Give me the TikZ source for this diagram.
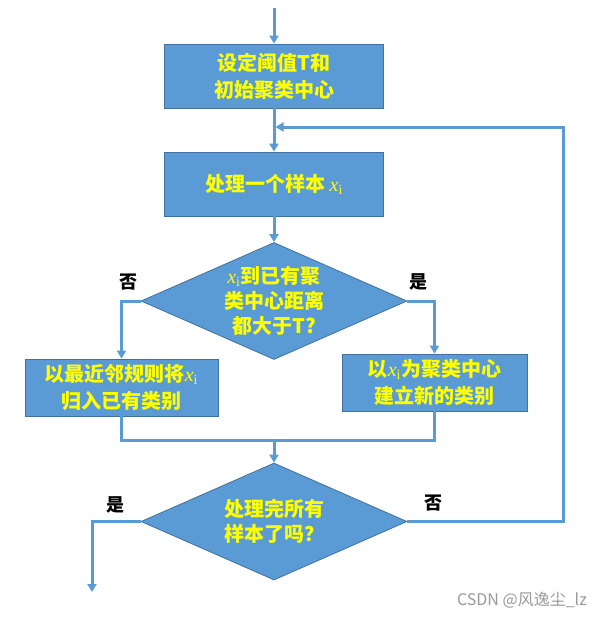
\documentclass[tikz,border=0pt]{standalone}
\usepackage[no-math]{fontspec}
\setmainfont{Noto Sans CJK SC}
\newfontfamily\xfont{Liberation Serif}
\usepackage{xcolor}
\usetikzlibrary{shapes.geometric,arrows.meta}
\definecolor{boxblue}{HTML}{5B9BD5}
\definecolor{edgeblue}{HTML}{41719C}
\definecolor{textyellow}{HTML}{FFFF00}
\newcommand{\xsub}{{\xfont\mdseries\itshape x\textsubscript{\upshape i}}}

\begin{document}
\begin{tikzpicture}[x=1pt,y=-1pt,
    procbox/.style={rectangle,draw=edgeblue,fill=boxblue,line width=.8pt,
        text=textyellow,align=center,inner sep=0pt,
        font=\bfseries\fontsize{20}{27}\selectfont},
    decide/.style={diamond,draw=edgeblue,fill=boxblue,line width=.8pt,
        text=textyellow,align=center,inner sep=-6pt,aspect=2.28,
        minimum width=266pt,minimum height=117pt,
        font=\bfseries\fontsize{20}{25}\selectfont},
    flow/.style={draw=boxblue,line width=3pt,-{Triangle[length=8pt,width=9pt]}},
    lbl/.style={font=\bfseries\fontsize{18}{18}\selectfont}]
    \path[use as bounding box] (0,0) rectangle (607,618);

    \node[procbox,minimum width=219pt,minimum height=64pt] (init) at (274,76)
        {设定阈值T和\\初始聚类中心};
    \node[procbox,minimum width=219pt,minimum height=64pt] (take) at (274,184)
        {处理一个样本 {\xsub}};
    \node[decide] (far) at (274,301)
        {{\xsub}到已有聚\\类中心距离\\都大于T?};
    \node[procbox,minimum width=193pt,minimum height=57pt] (near) at (121.5,387.5)
        {以最近邻规则将{\xsub}\\归入已有类别};
    \node[procbox,minimum width=185pt,minimum height=57pt] (new) at (434.5,382.5)
        {以{\xsub}为聚类中心\\建立新的类别};
    \node[decide] (done) at (274,521.5)
        {处理完所有\\样本了吗？};

    \coordinate (start) at (274,8);
    \coordinate (join) at (274,440);
    \coordinate (back) at (563,127);
    \coordinate (merge) at (275.5,127);
    \coordinate (stop) at (92,592);

    \draw[flow] (start) -- (init.north);
    \draw[flow] (init.south) -- (take.north);
    \draw[flow] (take.south) -- (far.north);
    \draw[flow] (far.west) -| (near.north);
    \draw[flow] (far.east) -| (new.north);
    \draw[flow,-] (near.south) |- (join);
    \draw[flow,-] (new.south) |- (join);
    \draw[flow] (join) -- (done.north);
    \draw[flow] (done.west) -| (stop);
    \draw[flow] (done.east) -| (back) -- (merge);

    \node[lbl] (no1) at (128,282) {否};
    \node[lbl] (yes1) at (418,282) {是};
    \node[lbl] (yes2) at (115,505) {是};
    \node[lbl] (no2) at (433,503) {否};
    %\node (wm) at (522,600) {};
    \node[text=black!40,font=\fontsize{16}{16}\selectfont] (mark) at (522,600)
        {CSDN @风逸尘\_lz};
\end{tikzpicture}
\end{document}
